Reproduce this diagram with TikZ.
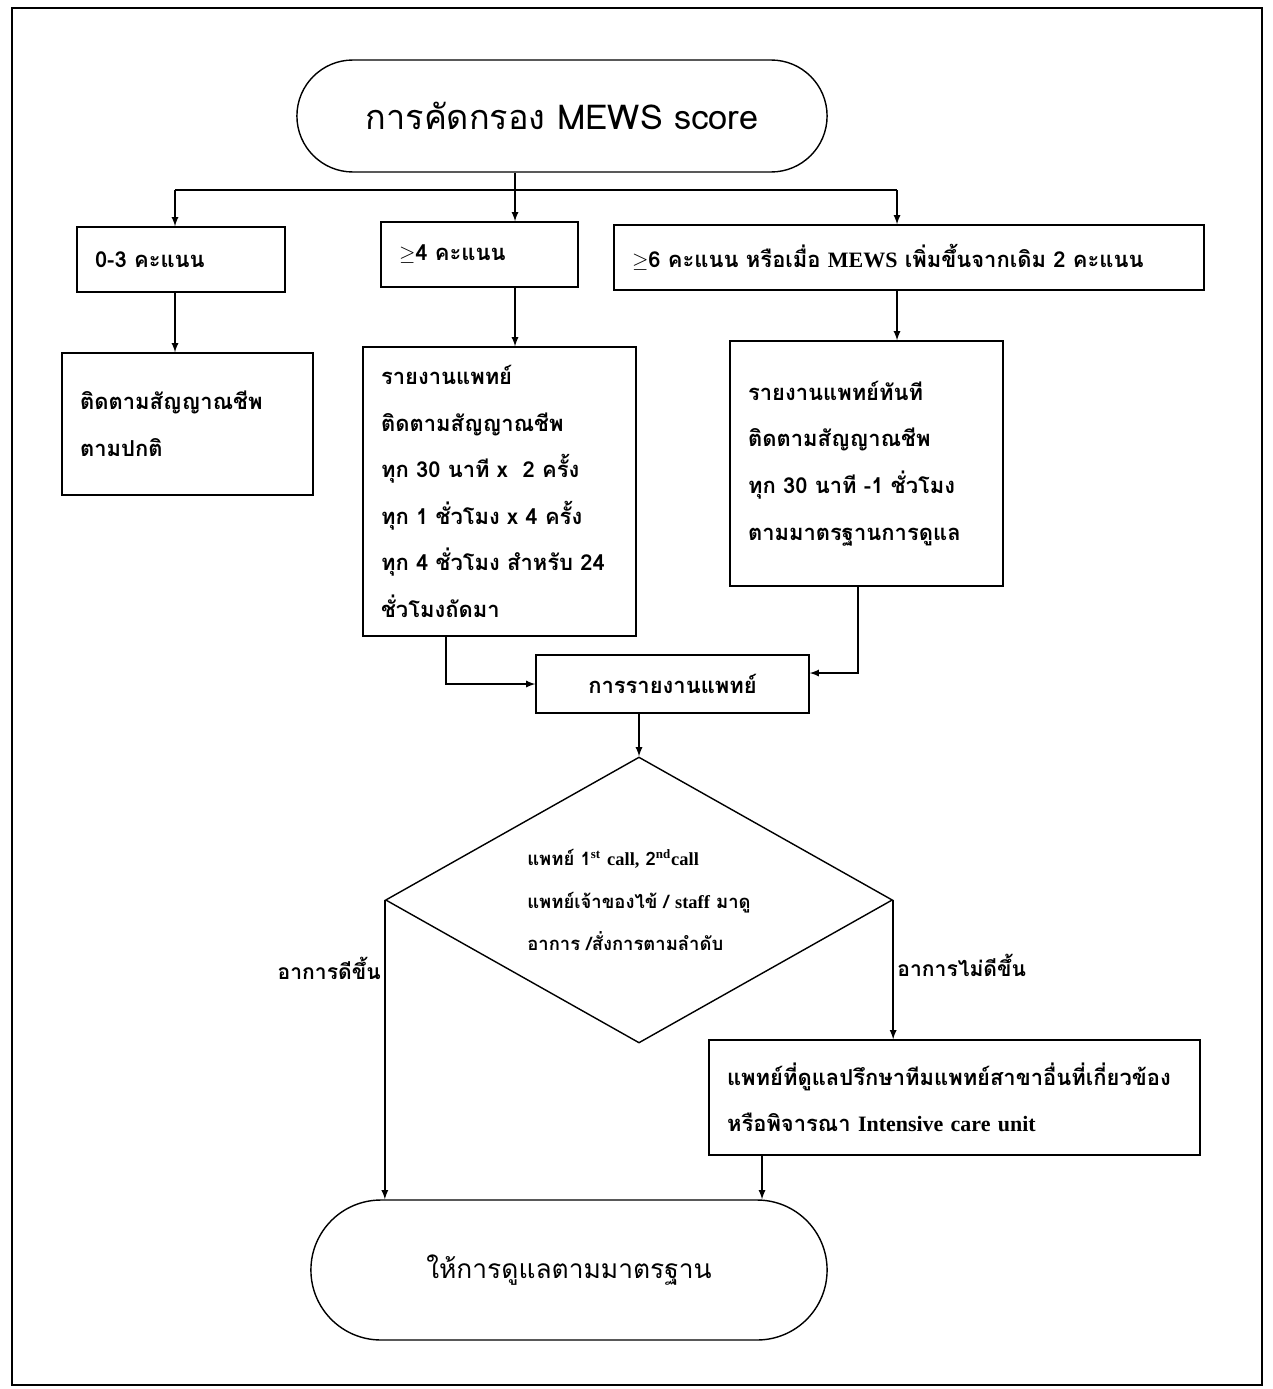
\documentclass[tikz,border=0pt]{standalone}
\usepackage{fontspec}
\newfontfamily\thai[Script=Thai]{Loma}
\newfontfamily\lat{Liberation Serif}
\usetikzlibrary{shapes.geometric,shapes.misc}

\begin{document}
\begin{tikzpicture}[
    x=0.02cm, y=-0.02cm,
    box/.style={rectangle, draw=black, thick, align=left, inner xsep=0.36cm,
        font=\thai\bfseries\fontsize{12.5}{26.5}\selectfont},
    term/.style={rounded rectangle, draw=black, thick},
    decision/.style={diamond, draw=black, thick, align=left, inner sep=0pt,
        aspect=1.77, minimum width=10.14cm, minimum height=5.72cm,
        font=\thai\bfseries\fontsize{10.5}{24}\selectfont},
    label/.style={font=\thai\bfseries\fontsize{12}{14}\selectfont, inner sep=2pt},
    line/.style={thick, -},
    arrow/.style={thick, -latex}
]
    \useasboundingbox (0,0) rectangle (1273,1389);
    \draw[thick] (12,8) rectangle (1262,1385);

    \node[term, minimum width=10.84cm, minimum height=2.24cm,
        font=\thai\fontsize{19.5}{24}\selectfont] (start) at (562,116) {การคัดกรอง MEWS score};
    \node[box, text width=3.44cm, minimum height=1.30cm] (low) at (181,259.5) {0-3 คะแนน};
    \node[box, text width=3.22cm, minimum height=1.30cm] (mid) at (479.5,254.5) {$\geq$4 คะแนน};
    \node[box, text width=11.08cm, minimum height=1.30cm] (high) at (909,257.5)
        {$\geq$6 คะแนน หรือเมื่อ {\lat MEWS} เพิ่มขึ้นจากเดิม 2 คะแนน};
    \node[box, text width=4.30cm, minimum height=2.84cm] (lowact) at (187.5,424)
        {ติดตามสัญญาณชีพ\\ตามปกติ};
    \node[box, text width=4.74cm, minimum height=5.78cm] (midact) at (499.5,491.5)
        {รายงานแพทย์\\ติดตามสัญญาณชีพ\\ทุก 30 นาที x \ 2 ครั้ง\\ทุก 1 ชั่วโมง x 4 ครั้ง\\ทุก 4 ชั่วโมง สำหรับ 24\\ชั่วโมงถัดมา};
    \node[box, text width=4.74cm, minimum height=4.90cm] (highact) at (866.5,463.5)
        {รายงานแพทย์ทันที\\ติดตามสัญญาณชีพ\\ทุก 30 นาที -1 ชั่วโมง\\ตามมาตรฐานการดูแล};
    \node[box, align=center, minimum width=5.46cm, minimum height=1.16cm] (report) at (672.5,684)
        {การรายงานแพทย์};
    \node[decision] (dec) at (639,900)
        {แพทย์ 1\textsuperscript{\lat st} {\lat call,} 2\textsuperscript{\lat nd}{\lat call}\\แพทย์เจ้าของไข้ / {\lat staff} มาดู\\อาการ /สั่งการตามลำดับ};
    \node[box, text width=9.10cm, minimum height=2.30cm] (icu) at (954.5,1097.5)
        {แพทย์ที่ดูแลปรึกษาทีมแพทย์สาขาอื่นที่เกี่ยวข้อง\\หรือพิจารณา {\lat Intensive care unit}};
    \node[term, minimum width=10.56cm, minimum height=2.80cm,
        font=\thai\fontsize{15}{20}\selectfont] (final) at (569,1270) {ให้การดูแลตามมาตรฐาน};

    \coordinate (split) at (515,190);
    \coordinate (jl) at (175,190);
    \coordinate (jr) at (897,190);

    \draw[line] (start.south -| split) -- (split);
    \draw[line] (jl) -- (jr);
    \draw[arrow] (jl) -- (jl |- low.north);
    \draw[arrow] (split) -- (split |- mid.north);
    \draw[arrow] (jr) -- (jr |- high.north);
    \draw[arrow] (low.south -| jl) -- (lowact.north -| jl);
    \draw[arrow] (mid.south -| split) -- (midact.north -| split);
    \draw[arrow] (high.south -| jr) -- (highact.north -| jr);
    \draw[arrow] ([xshift=-1.07cm]midact.south) |- (report.west);
    \draw[arrow] ([xshift=-0.17cm]highact.south) |- ([yshift=0.22cm]report.east);
    \draw[arrow] (report.south -| dec.north) -- (dec.north);
    \draw[arrow] (dec.west) -- (dec.west |- final.north)
        node[label, pos=0.23, left] (better) {อาการดีขึ้น};
    \draw[arrow] (dec.east) -- (dec.east |- icu.north)
        node[label, pos=0.47, right] (worse) {อาการไม่ดีขึ้น};
    \draw[arrow] ([xshift=-3.85cm]icu.south) -- ([xshift=-3.85cm]icu.south |- final.north);
\end{tikzpicture}
\end{document}
